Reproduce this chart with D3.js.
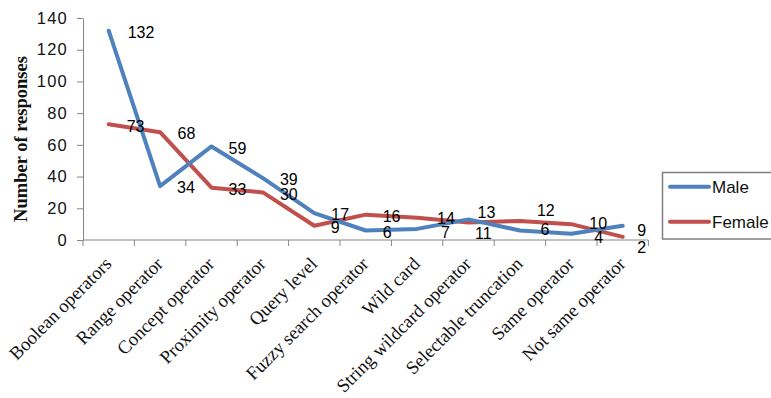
<!DOCTYPE html>
<html>
<head>
<meta charset="utf-8">
<script src="https://cdn.jsdelivr.net/npm/d3@7"></script>
<style>
  html, body { margin: 0; padding: 0; background: #fff; }
  svg { display: block; }
</style>
</head>
<body>
<svg id="chart" width="771" height="398"></svg>
<script>
// Search features and how many respondents of each gender chose them
const categories = [
  "Boolean operators", "Range operator", "Concept operator", "Proximity operator",
  "Query level", "Fuzzy search operator", "Wild card", "String wildcard operator",
  "Selectable truncation", "Same operator", "Not same operator"
];
const maleValues   = [132, 34, 59, 39, 17, 6, 7, 13, 6, 4, 9];
const femaleValues = [73, 68, 33, 30, 9, 16, 14, 11, 12, 10, 2];
const yTickValues  = [0, 20, 40, 60, 80, 100, 120, 140];
const seriesNames  = ["Male", "Female"];

// Small hand adjustments so crowded value labels do not collide
const maleLabelNudge   = [[2, 0], [0, 0], [0, 0], [0, 0], [0, 0], [0, 0], [7, 2], [-8, -8.5], [3.5, -3], [6, 2.5], [-2.5, 3.5]];
const femaleLabelNudge = [[1, 0.5], [0.5, -0.5], [0, 0.5], [0, 0.5], [-0.5, 0.5], [0, 0], [3, -1], [-10.5, 9], [0, -12.5], [1, -2.5], [-2.5, 9.5]];

const colors = { Male: "#4F81BD", Female: "#C0504D" };
const axisColor = "#868686";

const svg = d3.select("#chart");

const plot = { left: 83, right: 648.4, top: 18, bottom: 240 };

const x = d3.scaleBand().domain(categories).range([plot.left, plot.right]).padding(0);
const cx = c => x(c) + x.bandwidth() / 2;
const y = d3.scaleLinear().domain([0, 140]).range([plot.bottom, plot.top]);

// Y axis
const yAxis = svg.append("g")
  .attr("transform", `translate(${plot.left},0)`)
  .call(d3.axisLeft(y).tickValues(yTickValues).tickSize(6).tickPadding(9).tickSizeOuter(0));
yAxis.select(".domain").attr("stroke", axisColor).attr("stroke-width", 1);
yAxis.selectAll(".tick line").attr("stroke", axisColor);
yAxis.selectAll(".tick text")
  .attr("font-family", "'Liberation Sans', Arial, sans-serif")
  .attr("font-size", 16.5)
  .attr("letter-spacing", 1.2)
  .attr("fill", "#111");

// X axis: a baseline with ticks on the category boundaries
const xAxis = svg.append("g");
xAxis.append("line")
  .attr("x1", plot.left).attr("x2", plot.right)
  .attr("y1", y(0)).attr("y2", y(0))
  .attr("stroke", axisColor);
const boundaries = categories.map(c => x(c)).concat([x(categories[categories.length - 1]) + x.bandwidth()]);
xAxis.selectAll("line.tick")
  .data(boundaries)
  .join("line")
  .attr("class", "tick")
  .attr("x1", d => d).attr("x2", d => d)
  .attr("y1", y(0)).attr("y2", y(0) + 6)
  .attr("stroke", axisColor);

xAxis.selectAll("text.cat")
  .data(categories)
  .join("text")
  .attr("class", "cat")
  .attr("transform", d => `translate(${cx(d) + 4},${y(0) + 25}) rotate(-45)`)
  .attr("text-anchor", "end")
  .attr("font-family", "'Liberation Serif', 'Times New Roman', serif")
  .attr("font-size", 18.6)
  .attr("fill", "#111")
  .text(d => d);

// Y axis title
svg.append("text")
  .attr("transform", `translate(27,${(plot.top + plot.bottom) / 2 + 10}) rotate(-90)`)
  .attr("text-anchor", "middle")
  .attr("font-family", "'Liberation Serif', 'Times New Roman', serif")
  .attr("font-weight", "bold")
  .attr("font-size", 18.5)
  .attr("fill", "#111")
  .text("Number of responses");

// Lines
const series = [
  { name: "Male", values: maleValues, nudge: maleLabelNudge },
  { name: "Female", values: femaleValues, nudge: femaleLabelNudge }
];

const line = d3.line()
  .x((d, i) => cx(categories[i]))
  .y(d => y(d));

// Female drawn first so the male line sits on top
[series[1], series[0]].forEach(s => {
  svg.append("path")
    .datum(s.values)
    .attr("d", line)
    .attr("fill", "none")
    .attr("stroke", colors[s.name])
    .attr("stroke-width", 4)
    .attr("stroke-linejoin", "round")
    .attr("stroke-linecap", "round");
});

// Value labels to the right of each point
series.forEach(s => {
  svg.append("g").selectAll("text")
    .data(s.values)
    .join("text")
    .attr("x", (d, i) => cx(categories[i]) + 17 + s.nudge[i][0])
    .attr("y", (d, i) => y(d) + 1.5 + s.nudge[i][1])
    .attr("dy", "0.35em")
    .attr("font-family", "'Liberation Sans', Arial, sans-serif")
    .attr("font-size", 16)
    .attr("fill", "#000")
    .text(d => d);
});

// Legend
const legend = svg.append("g");
legend.append("rect")
  .attr("x", 662.5).attr("y", 172.5)
  .attr("width", 120).attr("height", 66.5)
  .attr("fill", "#fff")
  .attr("stroke", "#7f7f7f")
  .attr("stroke-width", 1.5);
seriesNames.forEach((name, i) => {
  const ly = 186.7 + i * 35;
  legend.append("line")
    .attr("x1", 670).attr("x2", 709)
    .attr("y1", ly).attr("y2", ly)
    .attr("stroke", colors[name])
    .attr("stroke-width", 4)
    .attr("stroke-linecap", "round");
  legend.append("text")
    .attr("x", 712).attr("y", ly)
    .attr("dy", "0.35em")
    .attr("font-family", "'Liberation Sans', Arial, sans-serif")
    .attr("font-size", 17)
    .attr("fill", "#111")
    .text(name);
});
</script>
</body>
</html>
